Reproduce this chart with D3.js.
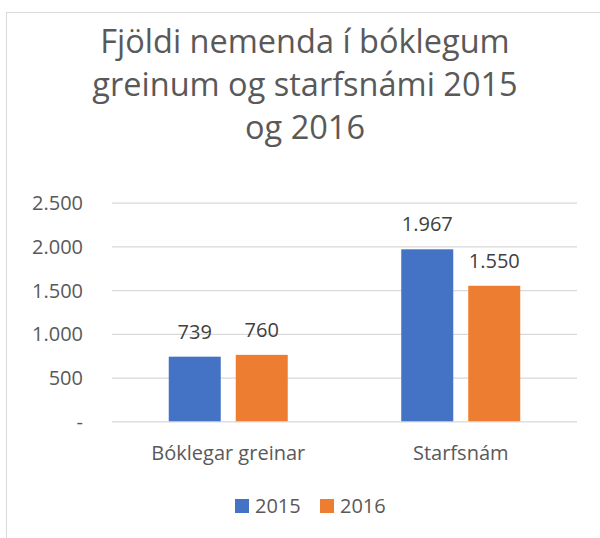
<!DOCTYPE html>
<html>
<head>
<meta charset="utf-8">
<script src="https://cdn.jsdelivr.net/npm/d3@7"></script>
<style>
  html, body { margin: 0; padding: 0; background: #fff; }
  svg { display: block; font-family: "Open Sans", sans-serif; }
</style>
</head>
<body>
<svg id="chart" width="600" height="538"></svg>
<script>
const titleLines = ["Fjöldi nemenda í bóklegum", "greinum og starfsnámi 2015", "og 2016"];
const categories = ["Bóklegar greinar", "Starfsnám"];
const seriesNames = ["2015", "2016"];
const values2015 = [739, 1967];
const values2016 = [760, 1550];
const yTicks = [0, 500, 1000, 1500, 2000, 2500];
const colors = ["#4472C4", "#ED7D31"];

const seriesValues = [values2015, values2016];
const svg = d3.select("#chart");

const locale = d3.formatLocale({ decimal: ",", thousands: ".", grouping: [3], currency: ["", " kr."] });
const fmt = v => v === 0 ? "-" : locale.format(",d")(v);

// chart border
svg.append("rect").attr("x", 6.5).attr("y", 12.5).attr("width", 700).attr("height", 700)
  .attr("fill", "#fff").attr("stroke", "#d9d9d9").attr("stroke-width", 1);

// title
const title = svg.append("text").attr("text-anchor", "middle").attr("fill", "#595959")
  .attr("font-size", 32.5);
titleLines.forEach((t, i) => {
  title.append("tspan").attr("x", 305).attr("y", 52.5 + i * 43).text(t);
});

const plot = { left: 112, right: 577, top: 202.7, bottom: 421.3 };
const y = d3.scaleLinear().domain([0, 2500]).range([plot.bottom, plot.top]);
const x0 = d3.scaleBand().domain(categories).range([plot.left, plot.right]).padding(0);
const groupW = 119;
const x1 = d3.scaleBand().domain(seriesNames).range([0, groupW]).paddingInner(15 / 67).paddingOuter(0);
const groupOffset = (x0.bandwidth() - groupW) / 2;

// gridlines
const yAxis = d3.axisLeft(y).tickValues(yTicks).tickSize(-(plot.right - plot.left)).tickFormat(fmt).tickPadding(29);
const gy = svg.append("g").attr("transform", `translate(${plot.left},0)`).call(yAxis);
gy.select(".domain").remove();
gy.selectAll(".tick line").attr("stroke", "#d9d9d9").attr("stroke-width", 1.2);
gy.selectAll(".tick text").attr("fill", "#595959").attr("font-size", 20)
  .attr("font-family", "'Open Sans', sans-serif").attr("dy", "0.35em");

// bars
const data = [];
categories.forEach((c, ci) => seriesNames.forEach((s, si) => data.push({ c, s, si, v: seriesValues[si][ci] })));
svg.append("g").selectAll("rect").data(data).join("rect")
  .attr("x", d => x0(d.c) + groupOffset + x1(d.s))
  .attr("y", d => y(d.v))
  .attr("width", x1.bandwidth())
  .attr("height", d => y(0) - y(d.v))
  .attr("fill", d => colors[d.si]);

// data labels
svg.append("g").selectAll("text").data(data).join("text")
  .attr("x", d => x0(d.c) + groupOffset + x1(d.s) + x1.bandwidth() / 2)
  .attr("y", d => y(d.v) - 18)
  .attr("text-anchor", "middle").attr("fill", "#404040").attr("font-size", 20)
  .text(d => fmt(d.v));

// category axis
const xAxis = d3.axisBottom(x0).tickSize(0).tickPadding(0);
const gx = svg.append("g").attr("transform", `translate(0,${plot.bottom})`).call(xAxis);
gx.select(".domain").remove();
gx.selectAll(".tick text").attr("fill", "#595959").attr("font-size", 20)
  .attr("font-family", "'Open Sans', sans-serif").attr("dy", null).attr("y", 39);

// legend
const legend = svg.append("g");
const legendX = [235, 320];
seriesNames.forEach((s, i) => {
  legend.append("rect").attr("x", legendX[i]).attr("y", 499).attr("width", 14).attr("height", 14).attr("fill", colors[i]);
  legend.append("text").attr("x", legendX[i] + 20).attr("y", 513).attr("fill", "#595959")
    .attr("font-size", 20).text(s);
});
</script>
</body>
</html>
